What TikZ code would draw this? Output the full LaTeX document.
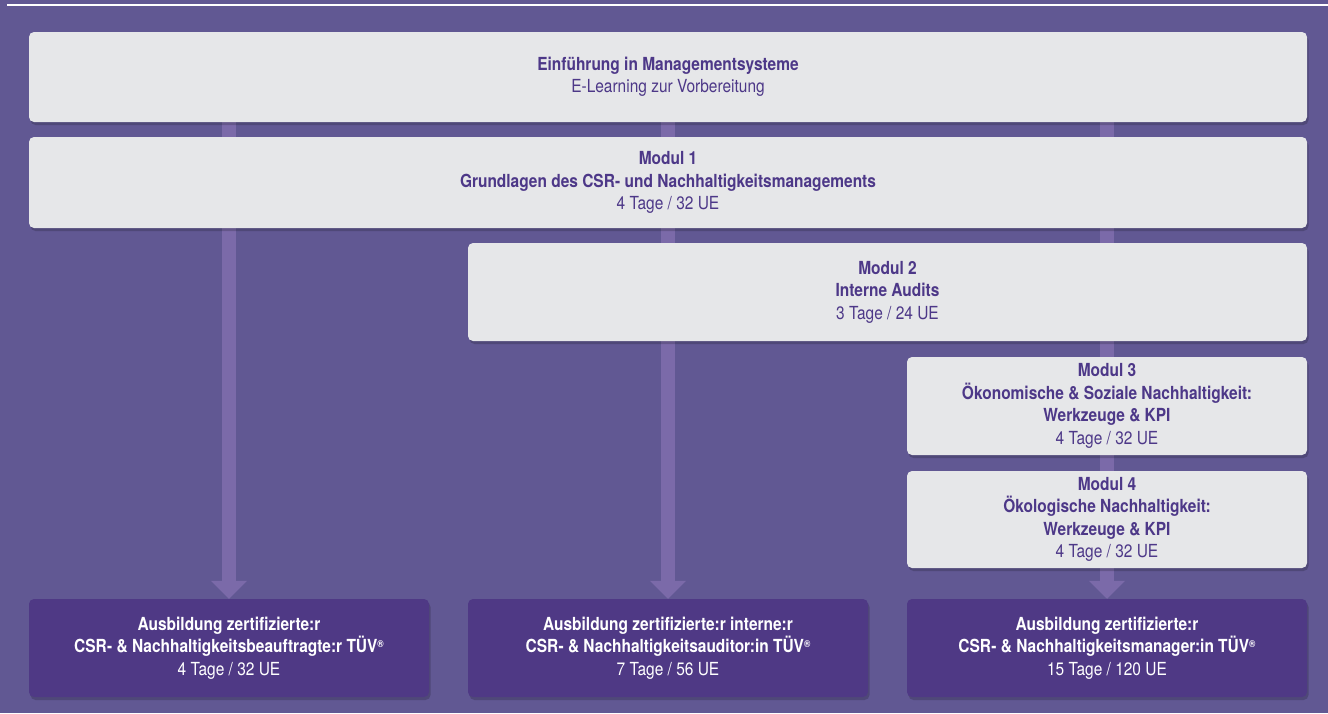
\documentclass[tikz,border=0pt]{standalone}
\usepackage{fontspec}
\setmainfont{TeX Gyre Heros}[FakeStretch=0.86]
\usetikzlibrary{arrows.meta,shadows}
\definecolor{bgpurple}{HTML}{615893}
\definecolor{lightbox}{HTML}{E6E7E9}
\definecolor{darkbox}{HTML}{4F3985}
\definecolor{txtpurple}{HTML}{4D3888}
\definecolor{shaftcol}{HTML}{7B6AA9}
\newcommand{\reg}{\raisebox{0.55ex}{\fontsize{10}{10}\selectfont ®}}
\tikzset{
  boxbase/.style={rounded corners=5pt, align=center, inner sep=0pt,
    font=\fontsize{18}{22.5}\selectfont,
    drop shadow={shadow xshift=1.5pt, shadow yshift=-3pt, opacity=0.18, fill=black}},
  lbox/.style={boxbase, fill=lightbox, text=txtpurple},
  dbox/.style={boxbase, fill=darkbox, text=white},
  shaft/.style={draw=shaftcol, line width=14pt,
    -{Triangle[width=35pt,length=18pt]}}
}
\begin{document}
\begin{tikzpicture}[x=1pt,y=-1pt]
\fill[bgpurple] (0,0) rectangle (1328,713);
\useasboundingbox (0,0) rectangle (1328,713);
\coordinate (lineL) at (7,5);
\coordinate (lineR) at (1328,5);
\draw[white, line width=1.6pt] (lineL) -- (lineR);

% boxes (positions)
\path
  (668,77) coordinate (cIntro)
  (668,182.5) coordinate (cM1)
  (887.5,292) coordinate (cM2)
  (1107,406) coordinate (cM3)
  (1107,519.5) coordinate (cM4)
  (229,648) coordinate (cB1)
  (668,648) coordinate (cB2)
  (1107,648) coordinate (cB3);

% invisible anchors for shafts
\path (cIntro) node[minimum width=1278pt, minimum height=90pt, inner sep=0pt] (introA) {};
\path (cB1) node[minimum width=400pt, minimum height=98pt, inner sep=0pt] (b1A) {};
\path (cB2) node[minimum width=400pt, minimum height=98pt, inner sep=0pt] (b2A) {};
\path (cB3) node[minimum width=400pt, minimum height=98pt, inner sep=0pt] (b3A) {};

\draw[shaft] (introA.south -| b1A.north) -- (b1A.north);
\draw[shaft] (introA.south -| b2A.north) -- (b2A.north);
\draw[shaft] (introA.south -| b3A.north) -- (b3A.north);

\node[lbox, minimum width=1278pt, minimum height=90pt] (intro) at (cIntro)
  {\textbf{Einführung in Managementsysteme}\\E-Learning zur Vorbereitung};
\node[lbox, minimum width=1278pt, minimum height=91pt] (m1) at (cM1)
  {\textbf{Modul 1}\\\textbf{Grundlagen des CSR- und Nachhaltigkeitsmanagements}\\4 Tage / 32 UE};
\node[lbox, minimum width=839pt, minimum height=98pt] (m2) at (cM2)
  {\textbf{Modul 2}\\\textbf{Interne Audits}\\3 Tage / 24 UE};
\node[lbox, minimum width=400pt, minimum height=98pt] (m3) at (cM3)
  {\textbf{Modul 3}\\\textbf{Ökonomische \& Soziale Nachhaltigkeit:}\\\textbf{Werkzeuge \& KPI}\\4 Tage / 32 UE};
\node[lbox, minimum width=400pt, minimum height=97pt] (m4) at (cM4)
  {\textbf{Modul 4}\\\textbf{Ökologische Nachhaltigkeit:}\\\textbf{Werkzeuge \& KPI}\\4 Tage / 32 UE};

\node[dbox, minimum width=400pt, minimum height=98pt] (b1) at (cB1)
  {\textbf{Ausbildung zertifizierte:r}\\\textbf{CSR- \& Nachhaltigkeitsbeauftragte:r TÜV\reg}\\4 Tage / 32 UE};
\node[dbox, minimum width=400pt, minimum height=98pt] (b2) at (cB2)
  {\textbf{Ausbildung zertifizierte:r interne:r}\\\textbf{CSR- \& Nachhaltigkeitsauditor:in TÜV\reg}\\7 Tage / 56 UE};
\node[dbox, minimum width=400pt, minimum height=98pt] (b3) at (cB3)
  {\textbf{Ausbildung zertifizierte:r}\\\textbf{CSR- \& Nachhaltigkeitsmanager:in TÜV\reg}\\15 Tage / 120 UE};
\end{tikzpicture}
\end{document}
